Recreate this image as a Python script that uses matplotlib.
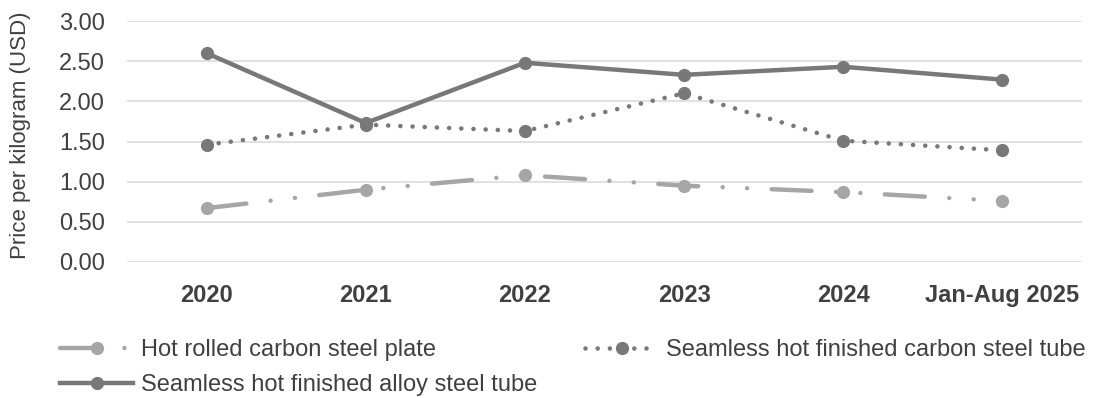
import matplotlib
matplotlib.use('Agg')
import matplotlib.pyplot as plt

plt.rcParams['font.family'] = ['Liberation Sans', 'DejaVu Sans']

years = ['2020', '2021', '2022', '2023', '2024', 'Jan-Aug 2025']
plate = [0.67, 0.90, 1.08, 0.95, 0.87, 0.76]
carbon_tube = [1.46, 1.71, 1.63, 2.10, 1.51, 1.39]
alloy_tube = [2.60, 1.73, 2.48, 2.33, 2.43, 2.27]
yticks = [0.0, 0.5, 1.0, 1.5, 2.0, 2.5, 3.0]

light = '#a6a6a6'
dark = '#787878'
txt = '#404040'

fig = plt.figure(figsize=(10.95, 3.98), dpi=100)
ax = fig.add_axes([127 / 1095, 1 - 262 / 398, (1082 - 127) / 1095, (262 - 21) / 398])

x = list(range(len(years)))
l1, = ax.plot(x, plate, color=light, lw=3.2, marker='o', ms=8.5,
              linestyle=(0, (9, 5.5, 0.01, 5.5, 0.01, 5.5)),
              dash_capstyle='round', label='Hot rolled carbon steel plate')
l2, = ax.plot(x, carbon_tube, color=dark, lw=3.3, marker='o', ms=8.5,
              linestyle=(0, (0.01, 2.65)), dash_capstyle='round',
              label='Seamless hot finished carbon steel tube')
l3, = ax.plot(x, alloy_tube, color=dark, lw=3.2, marker='o', ms=8.5,
              label='Seamless hot finished alloy steel tube')

ax.set_xlim(-0.5, len(years) - 0.5)
ax.set_ylim(0, 3.0)
ax.set_yticks(yticks)
ax.set_yticklabels([f'{v:.2f}' for v in yticks])
ax.set_xticks(x)
ax.set_xticklabels(years, fontweight='bold')
ax.tick_params(axis='y', length=0, pad=16, labelsize=17, labelcolor=txt)
ax.tick_params(axis='x', length=0, pad=16, labelsize=17, labelcolor=txt)
for s in ax.spines.values():
    s.set_visible(False)
ax.grid(axis='y', color='#d9d9d9', lw=1.1)
ax.set_axisbelow(True)
ax.set_ylabel('Price per kilogram (USD)', fontsize=16, color=txt)
ax.yaxis.set_label_coords(-96 / 955, 0.527)

leg = fig.legend(handles=[l1, l3, l2], loc='upper left', ncol=2,
                 bbox_to_anchor=(60 / 1095, 1 - 339 / 398),
                 frameon=False, fontsize=17, handlelength=3.1,
                 handletextpad=0.35, columnspacing=2.0, labelspacing=0.55,
                 borderpad=0, borderaxespad=0)
for t in leg.get_texts():
    t.set_color(txt)

fig.savefig('out.png', dpi=100)
